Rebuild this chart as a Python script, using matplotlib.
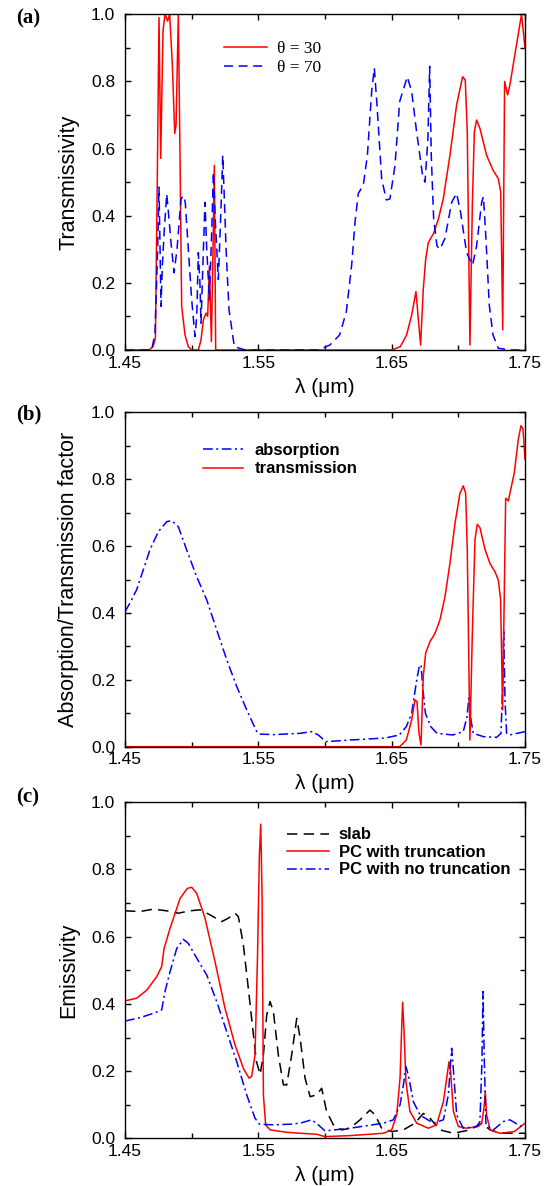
import matplotlib
matplotlib.use("Agg")
import matplotlib.pyplot as plt
from matplotlib.ticker import FixedLocator, MultipleLocator

plt.rcParams['font.family'] = ['Liberation Sans', 'DejaVu Sans']
plt.rcParams['lines.scale_dashes'] = False

# ---------------- data: panel (a) ----------------
lam_a30 = [1.450, 1.468, 1.471, 1.4728, 1.4742, 1.4755, 1.4768, 1.4785, 1.4800, 1.4820,
           1.4835, 1.4855, 1.4873, 1.4883, 1.4900, 1.4912, 1.4925, 1.4950, 1.4975, 1.5000,
           1.5050, 1.5070, 1.5088, 1.5108, 1.5120, 1.5133, 1.5148, 1.5160, 1.5170, 1.5180,
           1.5200, 1.6500, 1.6565, 1.6612, 1.6650, 1.6682, 1.6717, 1.6737, 1.6755, 1.6775,
           1.6815, 1.6850, 1.6887, 1.6937, 1.6987, 1.7032, 1.7052, 1.7067, 1.7087, 1.7105,
           1.7120, 1.7137, 1.7162, 1.7212, 1.7260, 1.7300, 1.7318, 1.7333, 1.7347, 1.7370,
           1.7387, 1.7420, 1.7474, 1.7500]
t_a30 = [0.0, 0.0, 0.01, 0.035, 0.5, 0.99, 0.571, 0.95, 1.0, 0.98,
         1.0, 0.85, 0.645, 0.67, 1.0, 0.6, 0.13, 0.045, 0.01, 0.0,
         0.0, 0.03, 0.09, 0.11, 0.10, 0.25, 0.025, 0.30, 0.55, 0.0,
         0.0, 0.0, 0.01, 0.045, 0.104, 0.174, 0.015, 0.18, 0.27, 0.32,
         0.348, 0.39, 0.45, 0.58, 0.73, 0.814, 0.804, 0.65, 0.015, 0.43,
         0.65, 0.685, 0.66, 0.58, 0.536, 0.51, 0.47, 0.06, 0.80, 0.76,
         0.79, 0.87, 1.0, 0.9]

lam_a70 = [1.450, 1.470, 1.4725, 1.4745, 1.4755, 1.4763, 1.4770, 1.4780, 1.4795, 1.4813,
           1.4828, 1.4845, 1.4868, 1.4890, 1.4920, 1.4938, 1.4952, 1.4975, 1.5000, 1.5025,
           1.5038, 1.5050, 1.5062, 1.5070, 1.5088, 1.5100, 1.5113, 1.5133, 1.5150, 1.5163,
           1.5178, 1.5200, 1.5218, 1.5233, 1.5248, 1.5258, 1.5280, 1.5320, 1.5400, 1.5950,
           1.6037, 1.6110, 1.6160, 1.6200, 1.6225, 1.6250, 1.6287, 1.6318, 1.6350, 1.6370,
           1.6390, 1.6425, 1.6460, 1.6487, 1.6525, 1.6560, 1.6617, 1.6650, 1.6687, 1.6732,
           1.6750, 1.6772, 1.6785, 1.6797, 1.6815, 1.6840, 1.6862, 1.6900, 1.6950, 1.6987,
           1.7017, 1.7062, 1.7107, 1.7137, 1.7175, 1.7188, 1.7207, 1.7232, 1.7260, 1.7300,
           1.7400, 1.7500]
t_a70 = [0.0, 0.0, 0.05, 0.30, 0.485, 0.30, 0.13, 0.25, 0.36, 0.465,
         0.40, 0.32, 0.23, 0.30, 0.45, 0.46, 0.44, 0.30, 0.15, 0.04,
         0.10, 0.29, 0.20, 0.08, 0.30, 0.44, 0.30, 0.15, 0.35, 0.53,
         0.38, 0.21, 0.40, 0.58, 0.42, 0.30, 0.12, 0.01, 0.0, 0.0,
         0.015, 0.045, 0.114, 0.253, 0.38, 0.467, 0.49, 0.58, 0.77, 0.84,
         0.73, 0.51, 0.447, 0.45, 0.55, 0.74, 0.814, 0.77, 0.65, 0.52,
         0.50, 0.63, 0.845, 0.58, 0.39, 0.31, 0.30, 0.333, 0.44, 0.467,
         0.41, 0.29, 0.253, 0.31, 0.44, 0.457, 0.333, 0.134, 0.045, 0.005,
         0.0, 0.0]

# ---------------- data: panel (b) ----------------
lam_b_abs = [1.4500, 1.4538, 1.4588, 1.4638, 1.4688, 1.4750, 1.4813, 1.4850, 1.4900, 1.4963,
             1.5038, 1.5113, 1.5188, 1.5263, 1.5338, 1.5413, 1.5488, 1.5505, 1.5613, 1.5813,
             1.5900, 1.5950, 1.6006, 1.6190, 1.6452, 1.6557, 1.6610, 1.6650, 1.6688, 1.6707,
             1.6720, 1.6735, 1.6753, 1.6793, 1.6840, 1.6960, 1.7037, 1.7065, 1.7080, 1.7095,
             1.7112, 1.7188, 1.7287, 1.7320, 1.7332, 1.7340, 1.7350, 1.7362, 1.7382, 1.7500]
b_abs = [0.404, 0.43, 0.47, 0.53, 0.59, 0.643, 0.673, 0.676, 0.658, 0.588,
         0.508, 0.439, 0.349, 0.26, 0.18, 0.11, 0.045, 0.038, 0.036, 0.04,
         0.045, 0.035, 0.015, 0.02, 0.026, 0.035, 0.06, 0.10, 0.20, 0.24,
         0.245, 0.17, 0.10, 0.06, 0.04, 0.035, 0.045, 0.09, 0.15, 0.08,
         0.04, 0.03, 0.028, 0.04, 0.18, 0.35, 0.14, 0.04, 0.035, 0.045]

lam_b_tr = [1.4500, 1.6560, 1.6610, 1.6650, 1.6675, 1.6690, 1.6705, 1.6720, 1.6737, 1.6755,
            1.6787, 1.6825, 1.6862, 1.6900, 1.6937, 1.6975, 1.7012, 1.7037, 1.7055, 1.7067,
            1.7087, 1.7105, 1.7125, 1.7142, 1.7162, 1.7200, 1.7237, 1.7275, 1.7300, 1.7317,
            1.7332, 1.7355, 1.7375, 1.7420, 1.7450, 1.7470, 1.7485, 1.7500]
b_tr = [0.0, 0.0, 0.02, 0.08, 0.14, 0.135, 0.04, 0.005, 0.21, 0.28,
        0.314, 0.339, 0.379, 0.449, 0.548, 0.668, 0.758, 0.78, 0.758, 0.588,
        0.02, 0.34, 0.62, 0.665, 0.655, 0.59, 0.548, 0.523, 0.498, 0.44,
        0.11, 0.743, 0.735, 0.82, 0.92, 0.96, 0.95, 0.86]

# ---------------- data: panel (c) ----------------
lam_c_slab = [1.4500, 1.4613, 1.4713, 1.4813, 1.4900, 1.4988, 1.5063, 1.5138, 1.5225, 1.5275,
              1.5325, 1.5350, 1.5388, 1.5425, 1.5458, 1.5485, 1.5513, 1.5538, 1.5563, 1.5588,
              1.5613, 1.5650, 1.5688, 1.5713, 1.5750, 1.5788, 1.5813, 1.5850, 1.5888, 1.5937,
              1.5975, 1.6012, 1.6063, 1.6125, 1.6187, 1.6263, 1.6337, 1.6375, 1.6425, 1.6500,
              1.6587, 1.6675, 1.6737, 1.6787, 1.6862, 1.6963, 1.7087, 1.7175, 1.7238, 1.7312,
              1.7500]
c_slab = [0.677, 0.675, 0.682, 0.677, 0.670, 0.677, 0.680, 0.665, 0.645, 0.655,
          0.670, 0.660, 0.575, 0.446, 0.327, 0.23, 0.19, 0.248, 0.367, 0.407,
          0.377, 0.248, 0.159, 0.159, 0.248, 0.357, 0.30, 0.18, 0.124, 0.129,
          0.149, 0.08, 0.04, 0.025, 0.03, 0.055, 0.084, 0.07, 0.03, 0.02,
          0.025, 0.045, 0.074, 0.06, 0.025, 0.015, 0.025, 0.045, 0.025, 0.015,
          0.015]

lam_c_tr = [1.4500, 1.4588, 1.4663, 1.4738, 1.4775, 1.4793, 1.4838, 1.4913, 1.4968, 1.5000,
            1.5038, 1.5100, 1.5175, 1.5250, 1.5325, 1.5388, 1.5430, 1.5450, 1.5475, 1.5493,
            1.5508, 1.5518, 1.5528, 1.5538, 1.5555, 1.5588, 1.5713, 1.5813, 1.5938, 1.6000,
            1.6187, 1.6438, 1.6500, 1.6538, 1.6563, 1.6575, 1.6582, 1.6592, 1.6607, 1.6637,
            1.6688, 1.6775, 1.6837, 1.6888, 1.6913, 1.6930, 1.6942, 1.6963, 1.7000, 1.7062,
            1.7150, 1.7175, 1.7192, 1.7202, 1.7212, 1.7238, 1.7312, 1.7420, 1.7500]
c_tr = [0.409, 0.417, 0.441, 0.481, 0.511, 0.565, 0.625, 0.714, 0.744, 0.747,
        0.729, 0.655, 0.526, 0.387, 0.278, 0.208, 0.179, 0.184, 0.248, 0.526,
        0.843, 0.935, 0.724, 0.129, 0.04, 0.025, 0.018, 0.015, 0.012, 0.005,
        0.008, 0.015, 0.025, 0.07, 0.18, 0.327, 0.405, 0.327, 0.169, 0.08,
        0.045, 0.03, 0.04, 0.109, 0.18, 0.228, 0.198, 0.08, 0.035, 0.03,
        0.035, 0.045, 0.089, 0.139, 0.07, 0.025, 0.015, 0.02, 0.045]

lam_c_nt = [1.4500, 1.4613, 1.4713, 1.4775, 1.4800, 1.4838, 1.4888, 1.4938, 1.4975, 1.5038,
            1.5113, 1.5188, 1.5263, 1.5338, 1.5413, 1.5475, 1.5508, 1.5613, 1.5738, 1.5813,
            1.5900, 1.5950, 1.6000, 1.6188, 1.6438, 1.6513, 1.6563, 1.6588, 1.6607, 1.6625,
            1.6663, 1.6713, 1.6813, 1.6888, 1.6925, 1.6950, 1.6962, 1.6988, 1.7037, 1.7137,
            1.7162, 1.7177, 1.7185, 1.7195, 1.7207, 1.7263, 1.7338, 1.7387, 1.7450, 1.7500]
c_nt = [0.349, 0.359, 0.372, 0.382, 0.437, 0.496, 0.565, 0.592, 0.580, 0.536,
        0.486, 0.407, 0.317, 0.228, 0.129, 0.060, 0.042, 0.040, 0.042, 0.045,
        0.055, 0.040, 0.022, 0.030, 0.045, 0.055, 0.100, 0.159, 0.213, 0.188,
        0.109, 0.069, 0.045, 0.055, 0.129, 0.268, 0.208, 0.069, 0.030, 0.035,
        0.050, 0.228, 0.437, 0.228, 0.040, 0.025, 0.050, 0.055, 0.040, 0.030]

x_major = [1.45, 1.55, 1.65, 1.75]
x_minor = [1.50, 1.60, 1.70]
x_labels = ['1.45', '1.55', '1.65', '1.75']
y_major = [0.0, 0.2, 0.4, 0.6, 0.8, 1.0]
y_labels = ['0.0', '0.2', '0.4', '0.6', '0.8', '1.0']

# ---------------- figure ----------------
W, H = 549, 1186
fig = plt.figure(figsize=(W / 100, H / 100), dpi=100)

AX_L, AX_W = 125, 400
panels = [(14.3, 350.0), (412.3, 746.7), (802.3, 1138.3)]
axes = []
for top, bot in panels:
    ax = fig.add_axes([AX_L / W, 1 - bot / H, AX_W / W, (bot - top) / H])
    axes.append(ax)

RED = '#ff0000'
BLUE = '#0000ff'
LW = 1.1
DASH = (0, (6.5, 4.0))
DASHDOT = (0, (7.0, 2.5, 1.5, 2.5))
SLABDASH = (0, (7.5, 4.5))

ylabels = ['Transmissivity', 'Absorption/Transmission factor', 'Emissivity']
for ax, yl in zip(axes, ylabels):
    ax.set_xlim(1.45, 1.75)
    ax.set_ylim(0, 1)
    ax.xaxis.set_major_locator(FixedLocator(x_major))
    ax.xaxis.set_minor_locator(FixedLocator(x_minor))
    ax.set_xticklabels(x_labels)
    ax.yaxis.set_major_locator(FixedLocator(y_major))
    ax.yaxis.set_minor_locator(MultipleLocator(0.1))
    ax.set_yticklabels(y_labels)
    ax.tick_params(which='both', direction='in', top=True, right=True, width=1.0,
                   labelsize=12.5, color='black')
    ax.tick_params(which='major', length=4.5)
    ax.tick_params(which='minor', length=3.5)
    ax.tick_params(axis='x', pad=4)
    ax.tick_params(axis='y', pad=7)
    for s in ax.spines.values():
        s.set_linewidth(1.0)
    ax.set_xlabel('λ (μm)', fontsize=15)
    ax.xaxis.set_label_coords(0.5, -0.083)
    ax.set_ylabel(yl, fontsize=15.5)
    ax.yaxis.set_label_coords(-0.115, 0.5)

# panel (a)
ax = axes[0]
la1, = ax.plot(lam_a30, t_a30, color=RED, lw=LW, label='θ = 30')
la2, = ax.plot(lam_a70, t_a70, color=BLUE, lw=LW, linestyle=DASH, label='θ = 70')
ax.legend(handles=[la1, la2], loc='upper left', bbox_to_anchor=(0.2475, 0.922),
          frameon=False, borderpad=0, borderaxespad=0, handlelength=2.5,
          handletextpad=0.55, labelspacing=0.2,
          prop={'family': 'Liberation Serif', 'size': 12.5})

# panel (b)
ax = axes[1]
lb1, = ax.plot(lam_b_abs, b_abs, color=BLUE, lw=LW, linestyle=DASHDOT, label='absorption')
lb2, = ax.plot(lam_b_tr, b_tr, color=RED, lw=LW, label='transmission')
ax.legend(handles=[lb1, lb2], loc='upper left', bbox_to_anchor=(0.195, 0.908),
          frameon=False, borderpad=0, borderaxespad=0, handlelength=2.4,
          handletextpad=0.7, labelspacing=0.2,
          prop={'family': 'Liberation Sans', 'size': 12, 'weight': 'bold'})

# panel (c)
ax = axes[2]
lc1, = ax.plot(lam_c_slab, c_slab, color='black', lw=LW, linestyle=SLABDASH, label='slab')
lc2, = ax.plot(lam_c_tr, c_tr, color=RED, lw=LW, label='PC with truncation')
lc3, = ax.plot(lam_c_nt, c_nt, color=BLUE, lw=LW, linestyle=DASHDOT, label='PC with no truncation')
ax.legend(handles=[lc1, lc2, lc3], loc='upper left', bbox_to_anchor=(0.405, 0.925),
          frameon=False, borderpad=0, borderaxespad=0, handlelength=2.5,
          handletextpad=0.6, labelspacing=0.15,
          prop={'family': 'Liberation Sans', 'size': 12, 'weight': 'bold'})

# panel letters
for lbl, yc in zip(['(a)', '(b)', '(c)'], [18, 414.5, 797.5]):
    fig.text(16 / W, 1 - yc / H, lbl, fontsize=15, fontweight='bold',
             family='Liberation Serif', ha='left', va='center')

fig.savefig('out.png', dpi=100)
